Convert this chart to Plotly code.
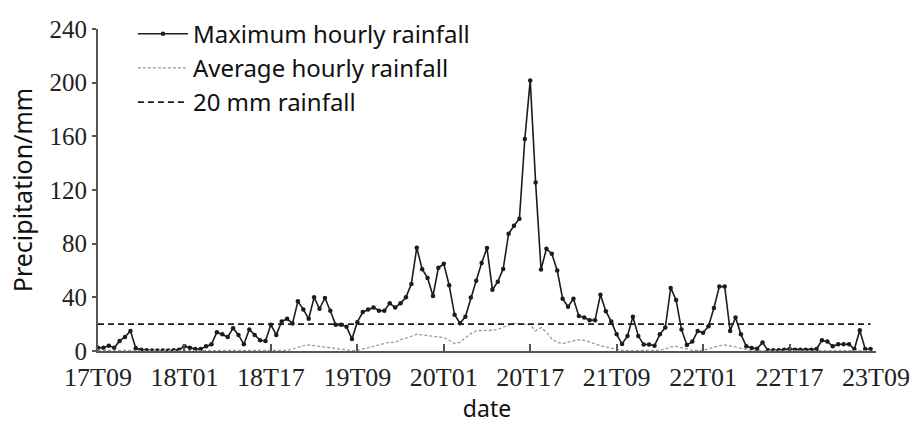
import plotly.graph_objects as go

# hourly index from 17T09 (0) to 23T08 (143)
hours = list(range(144))
tick_hours = [0, 16, 32, 48, 64, 80, 96, 112, 128, 144]
tick_labels = ["17T09", "18T01", "18T17", "19T09", "20T01", "20T17",
               "21T09", "22T01", "22T17", "23T09"]

max_rain = [
    2.4, 2.4, 4, 2.4, 7.5, 10.5, 15, 2, 1, 0.5,
    0.3, 0.3, 0.3, 0.3, 0.5, 1, 3.5, 2.5, 1.5, 1.5,
    3.5, 5, 14, 12.5, 10.5, 17, 12, 5, 16, 12,
    8, 7.5, 19.5, 12, 22, 24, 20.5, 37, 31, 24,
    40, 31.5, 39.5, 30, 19.5, 19.5, 18, 9, 21.5, 29,
    31, 32.5, 30, 30, 35.5, 32.5, 35.5, 40, 50, 77,
    61, 54.5, 41, 62, 65, 49, 27, 20.7, 25.5, 39.8,
    52.4, 65.5, 76.7, 45.7, 51.7, 61.2, 87.4, 93.3, 98.6, 158,
    201.7, 125.5, 60.7, 76.2, 72.4, 60, 39, 33, 39, 26,
    25, 23, 23, 42, 29.7, 21.9, 12.4, 5.2, 11.2, 25.5,
    11.2, 4.8, 4.8, 4, 12.4, 17.5, 47, 38, 16, 4.5,
    7, 15, 13.6, 18.5, 32, 48, 48, 15, 25, 12.4,
    3.5, 2.2, 1.7, 6.4, 0.5, 0.5, 0.5, 1, 1.5, 1,
    1, 1, 1, 1.5, 8, 7, 3.5, 5, 5, 5,
    1.5, 15.5, 1.5, 1.5,
]

avg_rain = [
    0.5, 0.5, 0.5, 0.5, 0.6, 0.7, 0.8, 0.5, 0.3, 0.2,
    0.2, 0.2, 0.2, 0.2, 0.2, 0.2, 0.3, 0.3, 0.3, 0.3,
    0.3, 0.3, 0.4, 0.4, 0.4, 0.4, 0.4, 0.3, 0.3, 0.3,
    0.3, 0.3, 0.3, 0.3, 0.3, 0.5, 1.5, 3, 4, 4.5,
    4, 3.5, 3, 2.5, 1.5, 1, 0.5, 0.3, 0.5, 1.5,
    3, 4, 5, 5.5, 6.5, 6.5, 8.5, 9.5, 11, 12.5,
    12, 11.5, 11, 10.5, 10, 8, 5.5, 6.5, 10, 13,
    15, 15, 15.5, 15.5, 16, 18, 19.5, 20.5, 20.5, 20,
    19.5, 15, 17.5, 14, 9, 6.5, 5.5, 6.5, 8, 8.5,
    8, 6.5, 5.5, 4, 3, 2, 1, 0.5, 0.3, 0.3,
    0.3, 0.3, 0.3, 0.3, 0.5, 1.5, 3, 3.5, 2.5, 1.5,
    0.5, 0.5, 0.5, 1.5, 3, 4, 4.5, 4, 3, 2,
    1, 0.3, 0.3, 0.3, 0.3, 0.3, 0.3, 0.3, 0.3, 0.3,
    0.3, 0.3, 0.3, 0.3, 0.3, 0.3, 0.3, 0.3, 0.3, 0.3,
    0.3, 0.3, 0.3, 0.3,
]

threshold = [20] * len(hours)

fig = go.Figure()
fig.add_trace(go.Scatter(
    x=hours, y=max_rain, name="Maximum hourly rainfall", mode="lines+markers",
    line=dict(color="#1c1c1c", width=1.6), marker=dict(size=4.5, color="#1c1c1c"),
    legendgroup="a", cliponaxis=False,
))
fig.add_trace(go.Scatter(
    x=hours, y=avg_rain, name="Average hourly rainfall", mode="lines",
    line=dict(color="#9a9a9a", width=1.3, dash="3px,2px"),
    legendgroup="b", cliponaxis=False,
))
fig.add_trace(go.Scatter(
    x=hours, y=threshold, name="20 mm rainfall", mode="lines",
    line=dict(color="#1c1c1c", width=1.6, dash="6px,4px"),
    legendgroup="c",
))

serif = "Liberation Serif, Times New Roman, serif"
sans = "Noto Sans, Open Sans, sans-serif"

fig.update_layout(
    width=922, height=424,
    margin=dict(l=98, r=44, t=18, b=70),
    paper_bgcolor="white", plot_bgcolor="white",
    showlegend=True,
    legend=dict(
        x=(133 - 98) / 780, y=1.054, xanchor="left", yanchor="top",
        font=dict(family=sans, size=24, color="#111"),
        bgcolor="rgba(0,0,0,0)", itemwidth=50, tracegroupgap=0,
    ),
    xaxis=dict(
        range=[0, 144], tickvals=tick_hours, ticktext=tick_labels,
        ticks="inside", ticklen=7, tickwidth=1.5, tickcolor="#555",
        showline=True, linecolor="#555", linewidth=2,
        showgrid=False, zeroline=False, ticklabelstandoff=2,
        tickfont=dict(family=serif, size=26, color="#222"),
        title=dict(text="date", font=dict(family=sans, size=23, color="#111"), standoff=4),
    ),
    yaxis=dict(
        range=[0, 240], tickvals=[0, 40, 80, 120, 160, 200, 240],
        ticks="outside", ticklen=4, tickwidth=1.5, tickcolor="#555",
        showline=True, linecolor="#555", linewidth=2,
        showgrid=False, zeroline=False,
        tickfont=dict(family=serif, size=25, color="#222"),
        title=dict(text="Precipitation/mm", font=dict(family=sans, size=25, color="#111"), standoff=10),
    ),
)
fig.write_html("out.html")
